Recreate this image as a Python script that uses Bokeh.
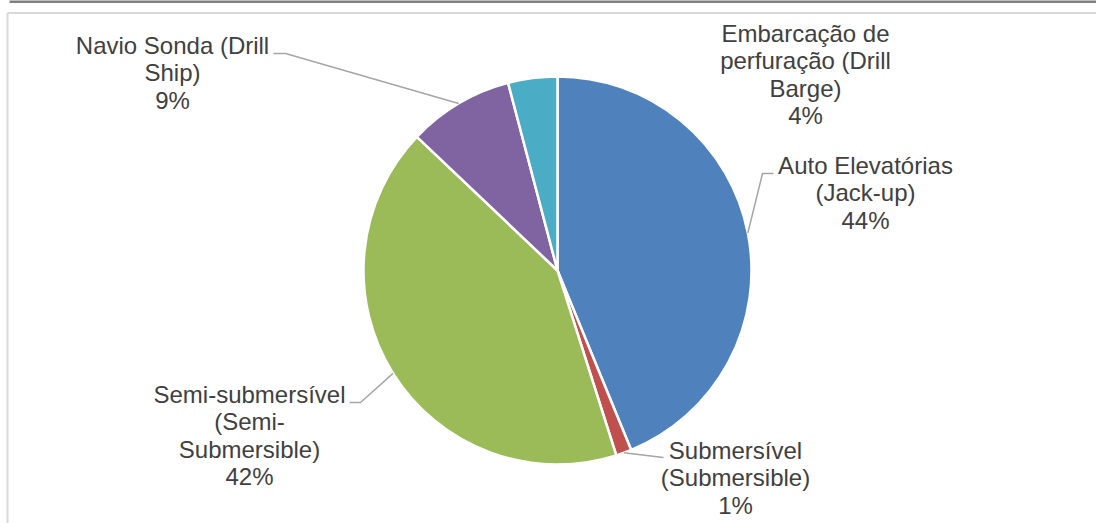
import math
from bokeh.plotting import figure
from bokeh.models import Range1d
from bokeh.embed import file_html
from bokeh.resources import INLINE
from bokeh.core.properties import value

# ---- data ----
categories = ["Auto Elevatórias (Jack-up)", "Submersível (Submersible)",
              "Semi-submersível (Semi-Submersible)", "Navio Sonda (Drill Ship)",
              "Embarcação de perfuração (Drill Barge)"]
shares = [43.8, 1.3, 42.0, 8.8, 4.1]
pct_labels = ["44%", "1%", "42%", "9%", "4%"]
label_lines = [["Auto Elevatórias", "(Jack-up)"],
               ["Submersível", "(Submersible)"],
               ["Semi-submersível", "(Semi-", "Submersible)"],
               ["Navio Sonda (Drill", "Ship)"],
               ["Embarcação de", "perfuração (Drill", "Barge)"]]
colors = ["#4F81BD", "#C0504D", "#9BBB59", "#8064A2", "#4BACC6"]

# ---- layout (pixel coordinates, y measured downward from page top) ----
W, H = 1096, 523
CX, CY, R = 557, 270, 194
label_anchor = [(865, 173), (735, 458), (249, 402), (172, 53), (805, 41)]
TEXT_DY = -8
LINE_H = 27.3
leader_elbows = [[(762, 173), (773, 173)],
                 [(663, 457)],
                 [(360, 402), (349, 402)],
                 [(285, 53), (273, 53)],
                 None]

def Y(py):
    return -py

p = figure(width=W, height=H, x_range=Range1d(0, W), y_range=Range1d(-H, 0),
           output_backend="svg", toolbar_location=None, min_border=0)
p.axis.visible = False
p.grid.visible = False
p.outline_line_color = None
p.background_fill_color = "white"
p.border_fill_color = "white"

# page decorations: dark rule on top, light chart frame
p.line(x=[9, W], y=[Y(1), Y(1)], line_color="#808080", line_width=3)
p.line(x=[7, 7], y=[Y(12.5), Y(H)], line_color="#D9D9D9", line_width=2)
p.line(x=[7, W], y=[Y(12.5), Y(12.5)], line_color="#D9D9D9", line_width=2)

total = sum(shares)
cum = 0.0
starts, ends, mids = [], [], []
for s in shares:
    a0 = cum / total * 2 * math.pi
    cum += s
    a1 = cum / total * 2 * math.pi
    starts.append(math.pi / 2 - a1)
    ends.append(math.pi / 2 - a0)
    mids.append((a0 + a1) / 2)

p.wedge(x=CX, y=Y(CY), radius=R, start_angle=starts, end_angle=ends,
        fill_color=colors, line_color="white", line_width=2.5)

for i, el in enumerate(leader_elbows):
    if el is None:
        continue
    ex = CX + R * math.sin(mids[i])
    ey = CY - R * math.cos(mids[i])
    xs = [ex] + [e[0] for e in el]
    ys = [Y(ey)] + [Y(e[1]) for e in el]
    p.line(x=xs, y=ys, line_color="#A6A6A6", line_width=1.5)

tx, ty, tt = [], [], []
for i, lines in enumerate(label_lines):
    ax, ay = label_anchor[i]
    all_lines = lines + [pct_labels[i]]
    for k, t in enumerate(all_lines):
        tx.append(ax)
        ty.append(Y(ay + TEXT_DY + k * LINE_H))
        tt.append(t)
p.text(x=tx, y=ty, text=tt, text_align="center", text_baseline="alphabetic",
       text_font=value("Liberation Sans"), text_font_size="24px", text_color="#404040")

open("out.html", "w").write(file_html(p, INLINE))
